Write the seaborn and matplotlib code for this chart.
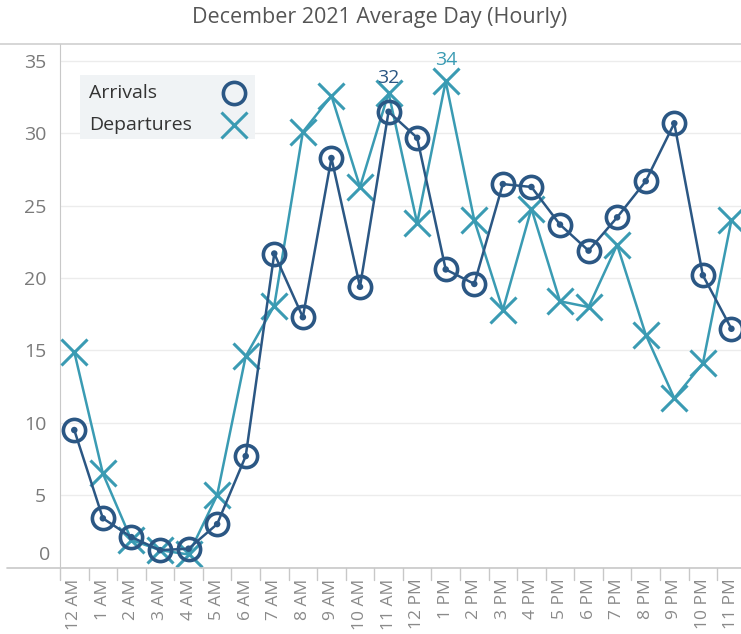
import pandas as pd
import matplotlib.pyplot as plt
import matplotlib.transforms as mtransforms
from matplotlib.lines import Line2D
from matplotlib.patches import Rectangle
import seaborn as sns

# --------------------------
# Data
# --------------------------
hours = ["12 AM", "1 AM", "2 AM", "3 AM", "4 AM", "5 AM", "6 AM", "7 AM", "8 AM",
         "9 AM", "10 AM", "11 AM", "12 PM", "1 PM", "2 PM", "3 PM", "4 PM", "5 PM",
         "6 PM", "7 PM", "8 PM", "9 PM", "10 PM", "11 PM"]
arrivals = [9.5, 3.4, 2.1, 1.2, 1.3, 3.0, 7.7, 21.7, 17.3, 28.3, 19.4, 31.5,
            29.7, 20.6, 19.6, 26.5, 26.3, 23.7, 21.9, 24.2, 26.7, 30.7, 20.2, 16.5]
departures = [14.9, 6.5, 1.9, 1.2, 0.9, 5.0, 14.6, 18.1, 30.1, 32.6, 26.3, 32.8,
              23.8, 33.6, 24.0, 17.8, 24.8, 18.4, 18.0, 22.3, 16.1, 11.7, 14.1, 24.0]
y_ticks = [0, 5, 10, 15, 20, 25, 30, 35]

ARR_COLOR = "#2b5784"
DEP_COLOR = "#3a9bb3"
TICK_GRAY = "#7a7a7a"

df = pd.DataFrame({
    "pos": list(range(len(hours))) * 2,
    "value": arrivals + departures,
    "series": ["Arrivals"] * len(hours) + ["Departures"] * len(hours),
})

# --------------------------
# Plot
# --------------------------
sns.set_style("white")
plt.rcParams["font.family"] = ["Open Sans", "DejaVu Sans"]

W, H = 741, 634
fig = plt.figure(figsize=(W / 100, H / 100), dpi=100)
ax = fig.add_axes([60 / W, (H - 567.5) / H, (745.7 - 60) / W, (567.5 - 44.3) / H])

arr = df[df["series"] == "Arrivals"]
dep = df[df["series"] == "Departures"]

sns.lineplot(data=dep, x="pos", y="value", color=DEP_COLOR, lw=1.8, marker="x",
             markersize=19, markeredgewidth=2.2, markeredgecolor=DEP_COLOR,
             ax=ax, legend=False, zorder=3)
sns.lineplot(data=arr, x="pos", y="value", color=ARR_COLOR, lw=1.8, marker="o",
             markersize=16, markeredgewidth=2.6, markerfacecolor="none",
             markeredgecolor=ARR_COLOR, ax=ax, legend=False, zorder=4)
sns.scatterplot(data=arr, x="pos", y="value", color=ARR_COLOR, s=22, ax=ax,
                zorder=5, legend=False, edgecolor="none")

# max labels
i_arr = arrivals.index(max(arrivals))
i_dep = departures.index(max(departures))
ax.text(i_arr, departures[i_arr] + 1.0, f"{round(max(arrivals))}",
        color=ARR_COLOR, ha="center", va="center", fontsize=14)
ax.text(i_dep, max(departures) + 1.45, f"{round(max(departures))}",
        color=DEP_COLOR, ha="center", va="center", fontsize=14)

# axes
ax.set_xlim(-0.5, len(hours) - 0.5)
ax.set_ylim(0, 36.16)
ax.set_yticks(y_ticks)
ax.set_yticklabels([str(t) if t else "" for t in y_ticks])
ax.set_xticks(range(len(hours)))
ax.set_xticklabels(hours, rotation=90)
ax.set_xlabel("")
ax.set_ylabel("")
ax.yaxis.grid(True, color="#ececec", lw=1)
ax.set_axisbelow(True)
ax.tick_params(axis="y", length=6, color="#c8c8c8", labelsize=14, labelcolor=TICK_GRAY, pad=4)
ax.tick_params(axis="x", length=0, labelsize=12.5, labelcolor="#8a8a8a", pad=8)
for s in ["top", "right", "bottom"]:
    ax.spines[s].set_visible(False)
ax.spines["left"].set_color("#c8c8c8")

# "0" label sits a bit above the axis line
off = mtransforms.offset_copy(ax.get_yaxis_transform(), fig=fig, x=-10, y=12, units="dots")
ax.text(0, 0, "0", transform=off, ha="right", va="center", fontsize=14, color=TICK_GRAY)

# category separators below the axis
sep = mtransforms.blended_transform_factory(ax.transData, ax.transAxes)
for k in range(len(hours) + 1):
    ax.add_line(Line2D([k - 0.5, k - 0.5], [0, -12 / 523], transform=sep, color="#c8c8c8",
                       lw=1, clip_on=False))

# frame lines across figure
fig.add_artist(Line2D([0, 1], [1 - 44.3 / H, 1 - 44.3 / H], color="#cfcfcf", lw=1.2))
fig.add_artist(Line2D([7 / W, 1], [1 - 567.5 / H, 1 - 567.5 / H], color="#c8c8c8", lw=1.2))

# legend box (text left, marker right)
fig.add_artist(Rectangle((80 / W, 1 - 139 / H), 175 / W, 64 / H, facecolor="#f0f3f5",
                         edgecolor="none", zorder=6))
for label, ypx, kw in [
    ("Arrivals", 93, dict(marker="o", markersize=16, markeredgewidth=2.6,
                          markerfacecolor="none", markeredgecolor=ARR_COLOR)),
    ("Departures", 125, dict(marker="x", markersize=19, markeredgewidth=2.2,
                             markeredgecolor=DEP_COLOR)),
]:
    fig.text(89 / W, 1 - ypx / H, label, ha="left", va="center", fontsize=14,
             color="#333333", zorder=7)
    fig.add_artist(Line2D([234 / W], [1 - ypx / H], linestyle="none", zorder=7, **kw))

fig.text(380 / W, 1 - 17 / H, "December 2021 Average Day (Hourly)", ha="center",
         va="center", fontsize=15.5, color="#555555")

fig.savefig("out.png", dpi=100)
